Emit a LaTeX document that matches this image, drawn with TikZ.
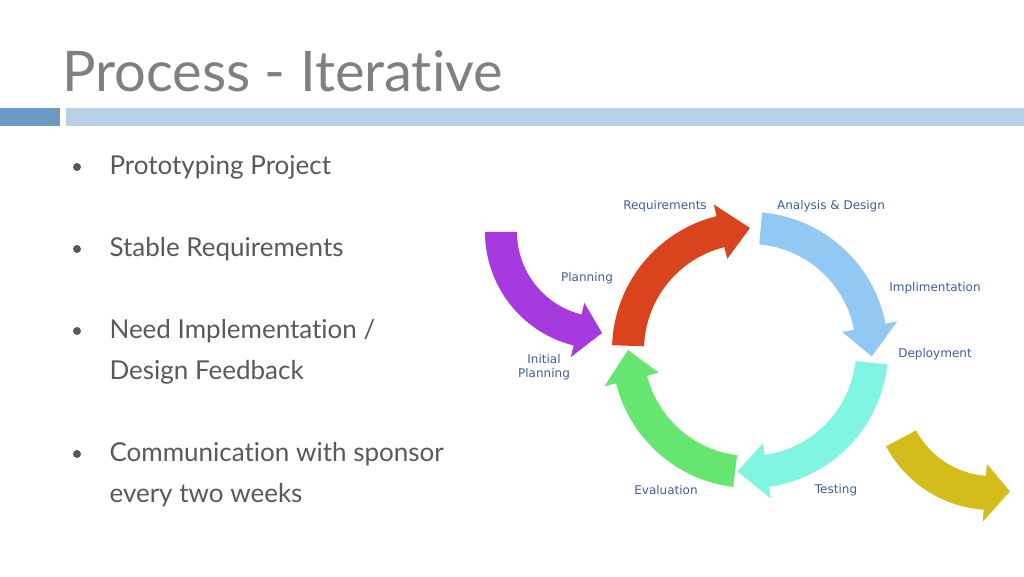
\documentclass[tikz,border=0pt]{standalone}
\usepackage{fontspec}
\setmainfont{Lato}[Ligatures=NoCommon]
\newfontfamily\lblfont{DejaVu Sans}
\definecolor{cred}{HTML}{D9441F}
\definecolor{cblue}{HTML}{92C9F4}
\definecolor{ccyan}{HTML}{80F5E2}
\definecolor{cgreen}{HTML}{66E670}
\definecolor{cpurple}{HTML}{A63ADF}
\definecolor{cyel}{HTML}{D4BC1A}
\definecolor{lbl}{HTML}{3F5E9C}
\definecolor{txt}{HTML}{595959}
\definecolor{bar1}{HTML}{6B9AC4}
\definecolor{bar2}{HTML}{B9D0E6}
\newcommand\cwarr[8]{\fill[#1,shift={(#2,#3)}] (#6:#4) arc[start angle=#6,end angle={#7+#8},radius=#4] -- ({#7+#8}:{#4+12}) -- (#7:{(#4+#5)/2}) -- ({#7+#8}:{#5-12}) -- ({#7+#8}:#5) arc[start angle={#7+#8},end angle=#6,radius=#5] -- cycle;}
\newcommand\ccwarr[8]{\fill[#1,shift={(#2,#3)}] (#6:#4) arc[start angle=#6,end angle={#7-#8},radius=#4] -- ({#7-#8}:{#4+12}) -- (#7:{(#4+#5)/2}) -- ({#7-#8}:{#5-12}) -- ({#7-#8}:#5) arc[start angle={#7-#8},end angle=#6,radius=#5] -- cycle;}
\begin{document}
\begin{tikzpicture}[x=1pt,y=1pt,
  lab/.style={font=\lblfont\fontsize{12}{14}\selectfont, text=lbl, align=center},
  bul/.style={anchor=west, font=\fontsize{26}{30}\selectfont, text=txt},
  dot/.style={circle, fill=txt, inner sep=0pt, minimum size=8pt}]
\useasboundingbox (0,0) rectangle (1024,576);
\fill[white] (0,0) rectangle (1024,576);
\node[anchor=base west, font=\fontsize{56}{60}\selectfont, text=gray, inner sep=0pt] (title) at (62,484) {Process - Iterative};
\fill[bar1] (0,450) rectangle (60,468);
\fill[bar2] (66,450) rectangle (1024,468);
\foreach \y/\t [count=\i] in {409/{Prototyping Project}, 327/{Stable Requirements}, 245/{Need Implementation /}, 122/{Communication with sponsor}}{
  \node[dot] (d\i) at (77,\y) {};
  \node[bul] (b\i) at (106,\y) {\t};
}
\node[bul] (b5) at (106,204) {Design Feedback};
\node[bul] (b6) at (106,81) {every two weeks};
% cycle
\cwarr{cred}{750}{226}{138}{106}{178}{90}{14}
\cwarr{cblue}{750}{226}{138}{106}{85}{-3}{14}
\cwarr{ccyan}{750}{226}{138}{106}{-6}{-96}{14}
\cwarr{cgreen}{750}{226}{138}{106}{263}{180}{14}
\ccwarr{cpurple}{602}{344}{117}{85}{180}{270}{14}
\ccwarr{cyel}{992}{186}{120}{86}{208}{280}{14}
\node[lab] (l1) at (665,370) {Requirements};
\node[lab] (l2) at (831,370) {Analysis \& Design};
\node[lab] (l3) at (935,288) {Implimentation};
\node[lab] (l4) at (935,222) {Deployment};
\node[lab] (l5) at (836,86) {Testing};
\node[lab] (l6) at (666,86) {Evaluation};
\node[lab] (l7) at (587,298) {Planning};
\node[lab] (l8) at (544,209) {Initial\\Planning};
\end{tikzpicture}
\end{document}
